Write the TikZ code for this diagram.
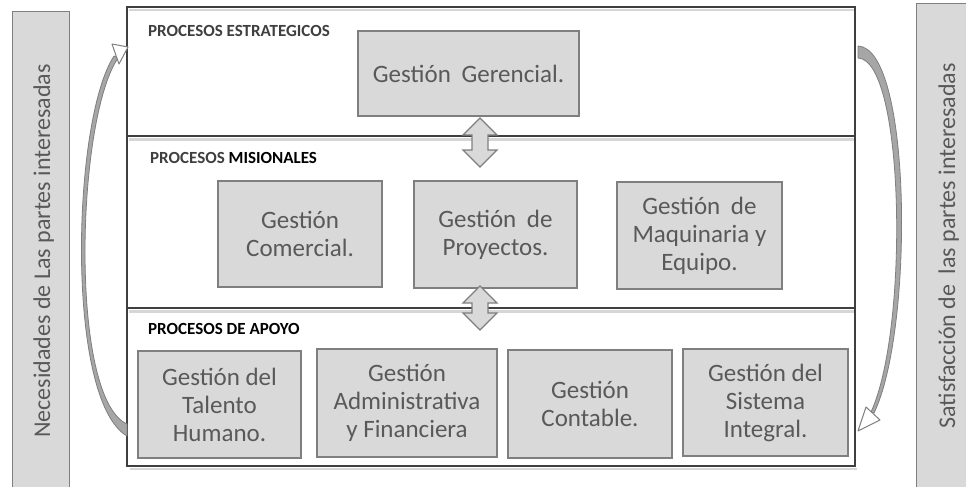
\documentclass[tikz,border=0pt]{standalone}
\usepackage{fontspec}
\setmainfont{Carlito}
\usetikzlibrary{calc}
\definecolor{boxfill}{HTML}{D9D9D9}
\definecolor{boxline}{HTML}{7F7F7F}
\definecolor{txtgray}{HTML}{595959}
\definecolor{framecol}{HTML}{3F3F3F}
\definecolor{shadecol}{HTML}{D6D6D6}
\definecolor{arrowfill}{HTML}{A6A6A6}
\tikzset{
  procbox/.style={draw=boxline, fill=boxfill, line width=1.3pt, text=txtgray,
    align=center, font=\fontsize{25}{28}\selectfont, inner sep=0pt},
  sidebar/.style={draw=boxline, fill=boxfill, line width=1.3pt, inner sep=0pt},
  sidetext/.style={rotate=90, anchor=base, text=txtgray, font=\fontsize{24}{28}\selectfont, inner sep=0pt},
  seclabel/.style={anchor=base west, font=\fontsize{17}{18}\selectfont\bfseries, inner sep=0pt},
  frameline/.style={draw=framecol, line width=1.4pt},
  shadowline/.style={draw=shadecol, line width=2.5pt},
  curvearrow/.style={fill=arrowfill, draw=boxline, line width=0.8pt, line join=round},
  curvehead/.style={fill=white, draw=boxline, line width=1pt, line join=round},
  updown/.style={fill=boxfill, draw=boxline, line width=1.2pt, line join=miter}
}
\newcommand{\myupdown}[2]{%
  \filldraw[updown] (#1) -- ($(#1)+(17,17)$) -- ($(#1)+(8,17)$) -- ($(#2)+(8,-17)$)
   -- ($(#2)+(17,-17)$) -- (#2) -- ($(#2)+(-17,-17)$) -- ($(#2)+(-8,-17)$)
   -- ($(#1)+(-8,17)$) -- ($(#1)+(-17,17)$) -- cycle;}
\begin{document}
\begin{tikzpicture}[x=1pt,y=-1pt]
\clip (0,0) rectangle (966,487);
\fill[white] (0,0) rectangle (966,487);

% side bars
\node[sidebar, minimum width=57, minimum height=490, anchor=north west] (leftbar) at (12,11) {};
\node[sidetext] (lefttext) at (50,251) {Necesidades de Las partes interesadas};
\node[sidebar, minimum width=60, minimum height=490, anchor=north west] (rightbar) at (916,3) {};
\node[sidetext] (righttext) at (955,246) {Satisfacción de\hspace{0.2em} las partes interesadas};

% frame shadows
\draw[shadowline] (130,469) -- (857,469);
\draw[shadowline] (129,139.5) -- (854,139.5);
\draw[shadowline] (129,311.5) -- (854,311.5);
\draw[shadowline] (129,10) -- (854,10);
% frame
\draw[frameline] (127,7) rectangle (855,466);
\draw[frameline] (127,136) -- (855,136);
\draw[frameline] (127,308) -- (855,308);

% section labels
\node[seclabel, text=framecol] (lestr) at (148,37) {PROCESOS ESTRATEGICOS};
\node[seclabel] (lmis) at (150,163) {\textcolor{framecol}{PROCESOS} MISIONALES};
\node[seclabel, text=black] (lapo) at (148,334) {PROCESOS DE APOYO};

% boxes
\node[procbox, minimum width=221, minimum height=85] (ger) at (468.5,73.5) {Gestión\hspace{0.2em} Gerencial.};
\node[procbox, minimum width=164, minimum height=106] (com) at (300,234) {Gestión\\Comercial.};
\node[procbox, minimum width=163, minimum height=107] (pro) at (495.5,234.5) {Gestión\hspace{0.2em} de\\Proyectos.};
\node[procbox, minimum width=165, minimum height=107] (maq) at (699.5,235.5) {Gestión\hspace{0.2em} de\\Maquinaria y\\Equipo.};
\node[procbox, minimum width=163, minimum height=107] (tal) at (219.5,404.5) {Gestión del\\Talento\\Humano.};
\node[procbox, minimum width=180, minimum height=108] (adm) at (407,403) {Gestión\\Administrativa\\y Financiera};
\node[procbox, minimum width=164, minimum height=108] (con) at (590,404) {Gestión\\Contable.};
\node[procbox, minimum width=165, minimum height=107] (sis) at (765.5,402.5) {Gestión del\\Sistema\\Integral.};

% up-down arrows
\coordinate (a1t) at (480,118);
\coordinate (a1b) at (480,167);
\coordinate (a2t) at (480,286);
\coordinate (a2b) at (480,330);
\myupdown{a1t}{a1b}
\myupdown{a2t}{a2b}

% curved arrows
\filldraw[curvearrow] (127,436) .. controls (65,400) and (72,120) .. (114,56)
  -- (118,58) .. controls (76,120) and (69,398) .. (127,424) -- cycle;
\filldraw[curvehead] (112,44) -- (128,47) -- (119,64) -- cycle;
\filldraw[curvearrow] (858,46) .. controls (912,48) and (914,330) .. (874,413)
  -- (871,412) .. controls (909,330) and (905,60) .. (858,58) -- cycle;
\filldraw[curvehead] (858,431) -- (866,407) -- (880,420) -- cycle;
\end{tikzpicture}
\end{document}
